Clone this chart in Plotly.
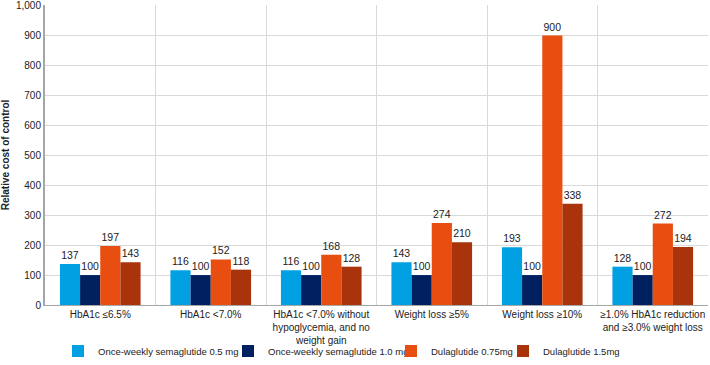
import plotly.graph_objects as go

categories = ["HbA1c ≤6.5%", "HbA1c <7.0%", "HbA1c <7.0% without<br>hypoglycemia, and no<br>weight gain",
              "Weight loss ≥5%", "Weight loss ≥10%", "≥1.0% HbA1c reduction<br>and ≥3.0% weight loss"]
sema_05 = [137, 116, 116, 143, 193, 128]
sema_10 = [100, 100, 100, 100, 100, 100]
dula_075 = [197, 152, 168, 274, 900, 272]
dula_15 = [143, 118, 128, 210, 338, 194]
series_names = ["Once-weekly semaglutide 0.5 mg", "Once-weekly semaglutide 1.0 mg",
                "Dulaglutide 0.75mg", "Dulaglutide 1.5mg"]
colors = ["#00A0E3", "#002060", "#E84E0F", "#A9340B"]
yticks = list(range(0, 1001, 100))

legend_ids = ["legend2", "legend3", "legend4", "legend5"]
legend_text_x = [98, 268, 431, 543]

fig = go.Figure()
for name, vals, c, lid in zip(series_names, [sema_05, sema_10, dula_075, dula_15], colors, legend_ids):
    fig.add_trace(go.Bar(x=categories, y=vals, name=name, marker_color=c, marker_line_width=0,
                         text=vals, textposition="outside", cliponaxis=False, legend=lid,
                         textfont=dict(size=10.5, color="#222")))

legend_common = dict(orientation="h", xref="container", yref="container", yanchor="middle",
                     xanchor="left", font=dict(size=9.5), itemwidth=30, bgcolor="rgba(0,0,0,0)")
layout_legends = {}
for lid, tx in zip(legend_ids, legend_text_x):
    layout_legends[lid] = dict(legend_common, x=(tx - 40) / 710, y=1 - 351 / 365)

fig.update_layout(
    width=710, height=365, barmode="group", bargap=0.27, bargroupgap=0,
    margin=dict(l=45, r=2, t=5, b=60, autoexpand=False),
    plot_bgcolor="white", paper_bgcolor="white", showlegend=True,
    font=dict(family="Liberation Sans, Arial, sans-serif", size=10, color="#222"),
    xaxis=dict(tickson="boundaries", showgrid=True, gridcolor="#D9D9D9", ticks="",
               showline=True, linecolor="#A6A6A6", tickfont=dict(size=10), tickangle=0,
               automargin=False),
    yaxis=dict(range=[0, 1002], tickvals=yticks, tickformat=",", showgrid=True, gridcolor="#D9D9D9",
               showline=True, linecolor="#A6A6A6", linewidth=2, zeroline=False, ticks="",
               automargin=False, ticklabeloverflow="allow",
               title=dict(text="<b>Relative cost of control</b>", font=dict(size=10), standoff=6),
               tickfont=dict(size=10)),
    **layout_legends,
)
fig.write_html("out.html", config={"displayModeBar": False},
               post_script="document.body.style.margin='0';document.body.style.padding='0';")
